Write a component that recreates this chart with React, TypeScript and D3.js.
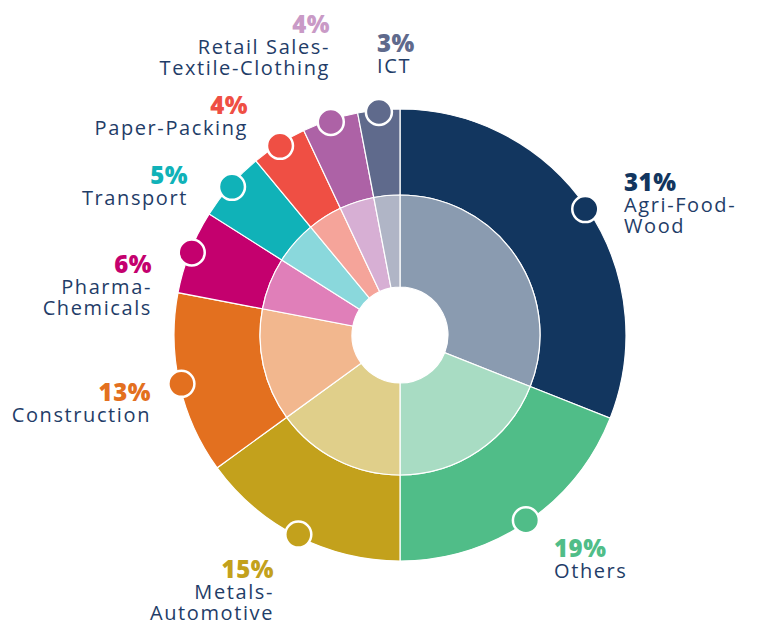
import React from "react";
import * as d3 from "d3";

const categories = ["Agri-Food-Wood", "Others", "Metals-Automotive", "Construction", "Pharma-Chemicals", "Transport", "Paper-Packing", "Retail Sales-Textile-Clothing", "ICT"];
const values = [31, 19, 15, 13, 6, 5, 4, 4, 3];
const labelLines = [["Agri-Food-", "Wood"], ["Others"], ["Metals-", "Automotive"], ["Construction"], ["Pharma-", "Chemicals"], ["Transport"], ["Paper-Packing"], ["Retail Sales-", "Textile-Clothing"], ["ICT"]];
const darkColors = ["#12365f", "#50bd88", "#c3a11c", "#e3701f", "#c4006e", "#10b2b8", "#ef4f44", "#ad62a6", "#5f6a8c"];
const lightColors = ["#8a9bb0", "#a8dcc3", "#e0cf8a", "#f2b78e", "#e07fb9", "#8ad8dc", "#f5a49a", "#d7afd4", "#b0b5c6"];
const pctColors = ["#12365f", "#50bd88", "#c3a11c", "#e3701f", "#c4006e", "#10b2b8", "#ef4f44", "#c99ac6", "#5f6a8c"];

// label layout: x, baseline of percent, anchor
const labelLayout: [number, number, "start" | "end"][] = [
  [624, 191, "start"],
  [554, 557, "start"],
  [274, 578, "end"],
  [151, 401, "end"],
  [152, 273, "end"],
  [188, 184, "end"],
  [248, 114, "end"],
  [330, 33, "end"],
  [377, 52, "start"],
];

export default function App() {
  const W = 761, H = 625;
  const cx = 400, cy = 335;
  const rHole = 48, rMid = 140, rOuter = 226, rDot = 224;
  const pie = d3.pie<number>().sort(null).value((d) => d)(values);
  const arcInner = d3.arc<d3.PieArcDatum<number>>().innerRadius(rHole).outerRadius(rMid);
  const arcOuter = d3.arc<d3.PieArcDatum<number>>().innerRadius(rMid).outerRadius(rOuter);
  const font = "'Open Sans', sans-serif";
  const navy = "#1f3d68";
  return (
    <svg width={W} height={H} style={{ position: "absolute", left: 0, top: 0 }} fontFamily={font}>
      <g transform={`translate(${cx},${cy})`}>
        {pie.map((p, i) => (
          <path key={"o" + i} d={arcOuter(p) || ""} fill={darkColors[i]} stroke="#fff" strokeWidth={1.2} />
        ))}
        {pie.map((p, i) => (
          <path key={"i" + i} d={arcInner(p) || ""} fill={lightColors[i]} stroke="#fff" strokeWidth={1.2} />
        ))}
        {pie.map((p, i) => {
          const a = (p.startAngle + p.endAngle) / 2;
          const x = Math.sin(a) * rDot;
          const y = -Math.cos(a) * rDot;
          return <circle key={"c" + i} cx={x} cy={y} r={13} fill={darkColors[i]} stroke="#fff" strokeWidth={2.5} />;
        })}
      </g>
      {categories.map((c, i) => {
        const [x, y, anchor] = labelLayout[i];
        return (
          <text key={"l" + i} x={x} y={y} textAnchor={anchor}>
            <tspan x={x} y={y} fontSize={24} fontWeight={800} fill={pctColors[i]} letterSpacing={0.5}>
              {values[i]}%
            </tspan>
            {labelLines[i].map((ln, j) => (
              <tspan key={j} x={x} y={y + 21 + j * 21} fontSize={20} fill={navy} letterSpacing={1.6}>
                {ln}
              </tspan>
            ))}
          </text>
        );
      })}
    </svg>
  );
}
